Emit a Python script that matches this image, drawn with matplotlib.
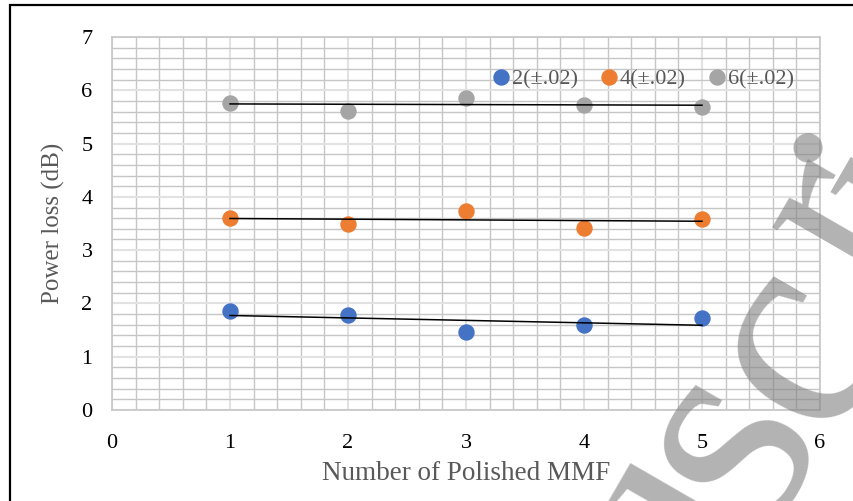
import matplotlib
matplotlib.use("Agg")
import matplotlib.pyplot as plt
import numpy as np
from matplotlib.patches import Rectangle

x_vals = [1, 2, 3, 4, 5]
s2 = [1.85, 1.79, 1.46, 1.59, 1.72]
s4 = [3.61, 3.50, 3.73, 3.41, 3.59]
s6 = [5.77, 5.62, 5.86, 5.72, 5.69]
labels = ["2(±.02)", "4(±.02)", "6(±.02)"]
colors = ["#4472C4", "#ED7D31", "#A5A5A5"]

# watermark letters ("Manuscript") visible fragments
wm_letters = ["u", "s", "c", "r", "i"]
wm_px = [(660, 538), (728, 440), (798, 345), (838, 218), (895, 192)]
wm_size = [215, 220, 215, 185, 200]

plt.rcParams['font.family'] = ['Liberation Serif', 'DejaVu Serif']

W, H = 854, 501
fig = plt.figure(figsize=(W/100, H/100), dpi=100)
ax = fig.add_axes([112/W, 1-410/H, (820-112)/W, (410-37)/H])

ax.set_xlim(0, 6)
ax.set_ylim(0, 7)
ax.set_xticks(range(0, 7))
ax.set_yticks(range(0, 8))
ax.set_xticks(np.arange(0, 6.01, 0.2), minor=True)
ax.set_yticks(np.arange(0, 7.01, 0.2), minor=True)
ax.grid(which='minor', color='#c6c6c6', linewidth=1.0)
ax.grid(which='major', color='#e2e2e2', linewidth=1.5)
ax.set_axisbelow(True)
ax.tick_params(which='both', length=0)
ax.tick_params(axis='x', pad=17, labelsize=16)
ax.tick_params(axis='y', pad=14, labelsize=16)
for s in ax.spines.values():
    s.set_color('#c6c6c6')
    s.set_linewidth(1.2)

for ys, lab, c in zip([s2, s4, s6], labels, colors):
    ax.plot(x_vals, ys, 'o', color=c, markersize=10.8, label=lab, zorder=3)
    k, b = np.polyfit(x_vals, ys, 1)
    xx = np.array([x_vals[0], x_vals[-1]])
    ax.plot(xx, k*xx + b, color='black', linewidth=1.1, zorder=4)

ax.set_xlabel("Number of Polished MMF", fontsize=19.5, color='#595959', labelpad=6)
ax.set_ylabel("Power loss (dB)", fontsize=18, color='#595959', labelpad=12)

leg = ax.legend(loc='upper right', bbox_to_anchor=(803/W, 1-60/H), bbox_transform=fig.transFigure,
                ncol=3, frameon=False, fontsize=16, handletextpad=0.0, columnspacing=0.9,
                borderaxespad=0, markerscale=1.0, handlelength=1.0)
for t in leg.get_texts():
    t.set_color('#595959')

# watermark
for ch, (px, py), fs in zip(wm_letters, wm_px, wm_size):
    fig.text(px/W, 1-py/H, ch, fontsize=fs, fontweight='normal', rotation=60,
             ha='center', va='center', color='#808080', alpha=0.6, zorder=10)

# outer frame
fig.patches.append(Rectangle((10/W, -0.05), 1.1, 1-5/H+0.05, transform=fig.transFigure,
                             fill=False, edgecolor='black', linewidth=1.6))

fig.savefig("out.png", dpi=100)
